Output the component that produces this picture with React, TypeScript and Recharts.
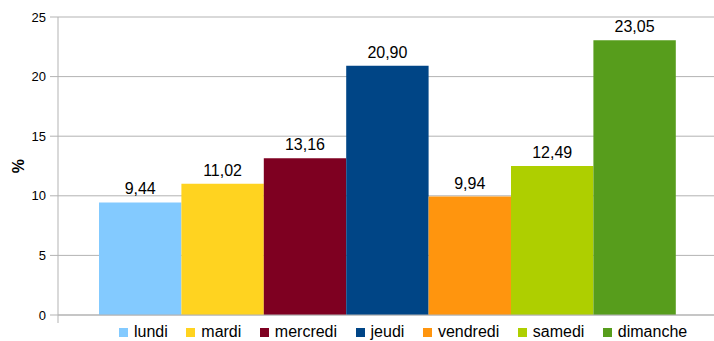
import { BarChart, Bar, XAxis, YAxis, CartesianGrid, LabelList, Legend } from "recharts";

const days = ["lundi", "mardi", "mercredi", "jeudi", "vendredi", "samedi", "dimanche"];
const shares = [9.44, 11.02, 13.16, 20.9, 9.94, 12.49, 23.05];
const yTicks = [0, 5, 10, 15, 20, 25];

// LibreOffice default palette
const colors = ["#83caff", "#ffd320", "#7e0021", "#004586", "#ff950e", "#aecf00", "#579d1c"];

const PLOT_LEFT = 58;
const GRID = "#b3b3b3";
const FONT = "'Liberation Sans', Arial, sans-serif";

// one category, one series per day
const row: Record<string, number | string> = { name: "" };
days.forEach((d, i) => {
  row[d] = shares[i];
});
const data = [row];

const fmt = (v: any) => Number(v).toFixed(2).replace(".", ",");

function LegendBox() {
  return (
    <div
      style={{
        display: "flex",
        alignItems: "center",
        height: 18,
        paddingLeft: 119,
        fontFamily: FONT,
        fontSize: 16,
        color: "#000",
        whiteSpace: "nowrap",
      }}
    >
      {days.map((d, i) => (
        <div key={d} style={{ display: "flex", alignItems: "center", marginRight: 18.5 }}>
          <span style={{ width: 9, height: 9, background: colors[i], marginRight: 6, display: "inline-block" }} />
          <span>{d}</span>
        </div>
      ))}
    </div>
  );
}

function YLabel(props: any) {
  const vb = props.viewBox || { x: 0, y: 17, height: 298 };
  const cx = vb.x + 18;
  const cy = vb.y + vb.height / 2;
  return (
    <text
      x={cx}
      y={cy}
      transform={`rotate(-90, ${cx}, ${cy})`}
      textAnchor="middle"
      dominantBaseline="central"
      fontFamily={FONT}
      fontSize={16}
      fontWeight="bold"
      fill="#000"
    >
      %
    </text>
  );
}

function EdgeTick(props: any) {
  // category boundary tick at the left edge of the plot
  return <line x1={PLOT_LEFT} x2={PLOT_LEFT} y1={props.y} y2={props.y + 8} stroke={GRID} />;
}

export default function App() {
  return (
    <div style={{ position: "absolute", left: 0, top: 0, width: 714, height: 341, overflow: "hidden", background: "#fff" }}>
      <BarChart
        width={720}
        height={341}
        data={data}
        margin={{ top: 17, right: 3, left: 0, bottom: 0 }}
        barGap={0}
        barSize={82.4}
      >
        <CartesianGrid vertical={false} stroke={GRID} />
        <XAxis
          dataKey="name"
          height={8}
          axisLine={{ stroke: GRID }}
          tickLine={false}
          tickSize={0}
          tickMargin={0}
          tick={<EdgeTick />}
        />
        <YAxis
          width={58}
          domain={[0, 25]}
          ticks={yTicks}
          interval={0}
          tickSize={8}
          tickMargin={4}
          axisLine={{ stroke: GRID }}
          tickLine={{ stroke: GRID }}
          tick={{ fill: "#000", fontSize: 13, fontFamily: FONT }}
          label={<YLabel />}
        />
        <Legend verticalAlign="bottom" content={<LegendBox />} wrapperStyle={{ left: 0, bottom: 0, width: 714, height: 18 }} />
        {days.map((d, i) => (
          <Bar key={d} dataKey={d} fill={colors[i]} isAnimationActive={false}>
            <LabelList
              dataKey={d}
              position="top"
              offset={8}
              formatter={fmt}
              fill="#000"
              fontSize={16}
              fontFamily={FONT}
            />
          </Bar>
        ))}
      </BarChart>
    </div>
  );
}
